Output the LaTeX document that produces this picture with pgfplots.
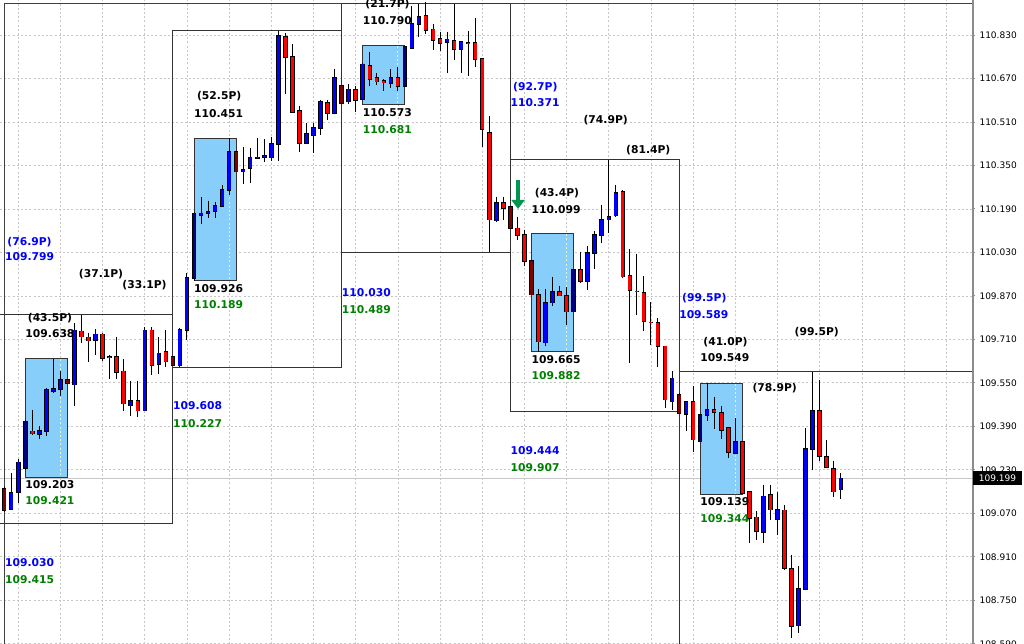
\documentclass[border=0pt]{standalone}
\usepackage{pgfplots}
\pgfplotsset{compat=1.18}
\usepackage{pgfplotstable}
\usepackage{fontspec}
\setmainfont{DejaVu Sans}
\usetikzlibrary{arrows.meta}
\definecolor{mtblue}{RGB}{0,0,255}
\definecolor{mtred}{RGB}{255,0,0}
\definecolor{mtnavy}{RGB}{0,0,128}
\definecolor{mtmaroon}{RGB}{128,0,0}
\definecolor{mtgreen}{RGB}{0,128,0}
\definecolor{txtblue}{RGB}{0,0,255}
\definecolor{skyb}{RGB}{135,206,250}
\definecolor{gridin}{RGB}{230,245,200}
\definecolor{arrowg}{RGB}{0,150,80}
\newcommand{\lf}{\fontsize{10.75}{12}\selectfont\bfseries}
\newcommand{\lab}[4]{\node[anchor=west,inner sep=0pt,text=#4,font=\lf] at (axis cs:#1,#2) {#3};}
\newcommand{\plab}[4]{\node[anchor=center,inner sep=0pt,text=#4,font=\lf] at (axis cs:#1,#2) {#3};}

\pgfplotstableread{
i o h l c
1 109.086 109.218 109.083 109.144
2 109.147 109.270 109.108 109.257
5 109.360 109.392 109.343 109.374
6 109.371 109.531 109.355 109.524
7 109.520 109.638 109.514 109.527
8 109.527 109.592 109.503 109.561
10 109.543 109.770 109.466 109.743
13 109.706 109.748 109.653 109.728
18 109.466 109.558 109.429 109.484
20 109.448 109.755 109.446 109.743
22 109.619 109.717 109.583 109.659
25 109.613 109.752 109.610 109.745
26 109.745 109.954 109.706 109.935
28 110.168 110.233 110.135 110.174
29 110.174 110.220 110.156 110.180
30 110.183 110.217 110.156 110.201
31 110.201 110.278 110.199 110.260
32 110.260 110.451 110.242 110.401
34 110.327 110.416 110.281 110.334
35 110.340 110.413 110.285 110.380
36 110.376 110.452 110.375 110.380
37 110.381 110.446 110.364 110.385
38 110.379 110.456 110.368 110.429
39 110.429 110.846 110.368 110.826
43 110.432 110.505 110.429 110.465
44 110.462 110.507 110.395 110.487
45 110.487 110.591 110.462 110.585
47 110.542 110.704 110.541 110.671
49 110.585 110.649 110.576 110.630
51 110.594 110.726 110.591 110.722
55 110.652 110.704 110.634 110.671
58 110.781 110.935 110.780 110.870
59 110.870 110.943 110.822 110.897
63 110.803 110.842 110.691 110.814
65 110.777 110.806 110.691 110.805
70 110.147 110.235 110.140 110.213
77 109.698 109.895 109.686 109.843
78 109.845 109.941 109.831 109.886
83 109.925 110.054 109.892 110.029
84 110.027 110.107 109.968 110.094
85 110.094 110.205 110.066 110.150
86 110.150 110.370 110.103 110.162
87 110.165 110.278 110.162 110.250
95 109.481 109.592 109.451 109.567
97 109.436 109.482 109.371 109.481
100 109.432 109.549 109.408 109.451
104 109.292 109.420 109.289 109.334
108 109.000 109.175 108.961 109.132
110 109.049 109.150 108.991 109.083
113 108.656 108.875 108.630 108.791
114 108.791 109.384 108.790 109.306
115 109.306 109.589 109.230 109.447
119 109.157 109.220 109.122 109.199
}\bull

\pgfplotstableread{
i o h l c
4 109.371 109.451 109.359 109.363
11 109.739 109.800 109.696 109.720
12 109.717 109.735 109.628 109.705
14 109.728 109.734 109.632 109.641
15 109.645 109.653 109.564 109.643
16 109.645 109.718 109.564 109.588
17 109.592 109.637 109.445 109.473
19 109.484 109.558 109.426 109.448
21 109.743 109.755 109.580 109.616
23 109.663 109.743 109.610 109.628
40 110.822 110.838 110.613 110.748
41 110.750 110.796 110.545 110.546
42 110.551 110.569 110.401 110.432
46 110.581 110.591 110.517 110.542
50 110.628 110.642 110.548 110.591
52 110.717 110.769 110.642 110.667
53 110.671 110.691 110.646 110.658
54 110.661 110.667 110.625 110.655
56 110.671 110.711 110.625 110.642
60 110.900 110.952 110.834 110.848
61 110.851 110.870 110.775 110.812
62 110.815 110.842 110.772 110.800
64 110.808 110.944 110.738 110.777
66 110.802 110.846 110.679 110.800
67 110.802 110.891 110.713 110.741
68 110.741 110.742 110.419 110.483
69 110.471 110.530 110.032 110.150
71 110.211 110.235 110.150 110.193
73 110.118 110.162 110.074 110.094
74 110.094 110.113 109.980 109.999
76 109.874 109.895 109.665 109.702
79 109.886 109.907 109.868 109.871
80 109.871 109.904 109.763 109.812
82 109.965 110.033 109.917 109.925
88 110.254 110.260 109.935 109.941
89 109.944 110.042 109.623 109.892
90 109.887 110.025 109.800 109.885
91 109.882 109.944 109.741 109.776
92 109.773 109.849 109.690 109.771
93 109.770 109.788 109.610 109.684
94 109.684 109.686 109.457 109.488
98 109.481 109.539 109.294 109.341
101 109.451 109.498 109.380 109.441
102 109.439 109.463 109.343 109.377
103 109.384 109.389 109.273 109.294
105 109.334 109.336 109.141 109.144
106 109.150 109.152 108.961 109.053
107 109.055 109.077 108.973 109.003
109 109.138 109.175 109.046 109.083
111 109.081 109.099 108.862 108.869
112 108.865 108.918 108.611 108.654
116 109.447 109.561 109.264 109.279
117 109.277 109.338 109.236 109.239
118 109.233 109.264 109.130 109.150
}\bear

\pgfplotstableread{
i o h l c
3 109.236 109.414 109.230 109.408
27 109.935 110.180 109.925 110.174
57 110.642 110.790 110.640 110.787
81 109.812 109.966 109.811 109.965
99 109.334 109.433 109.333 109.432
}\dbull

\pgfplotstableread{
i o h l c
0 109.159 109.168 109.076 109.081
9 109.561 109.565 109.546 109.549
24 109.645 109.646 109.613 109.615
33 110.401 110.403 110.326 110.327
48 110.644 110.646 110.579 110.580
72 110.197 110.199 110.119 110.119
75 109.999 110.000 109.874 109.874
96 109.506 109.512 109.438 109.439
}\dbear

\newcommand{\candles}[2]{%
\addplot[draw=none, mark=none, forget plot, error bars/.cd, y dir=minus, y explicit, error mark=none,
  error bar style={line width=1pt, draw=black, solid}]
  table[x=i, y=h, y error minus expr={\thisrow{h}-\thisrow{l}}] {#1};
\addplot[draw=none, mark=none, forget plot, error bars/.cd, y dir=minus, y explicit, error mark=none,
  error bar style={line width=4.5pt, draw=black, solid}]
  table[x=i, y expr={max(\thisrow{o},\thisrow{c})+0.0026}, y error minus expr={abs(\thisrow{o}-\thisrow{c})+0.0052}] {#1};
\addplot[draw=none, mark=none, forget plot, error bars/.cd, y dir=minus, y explicit, error mark=none,
  error bar style={line width=3pt, draw=#2, solid}]
  table[x=i, y expr={max(\thisrow{o},\thisrow{c})}, y error minus expr={abs(\thisrow{o}-\thisrow{c})}] {#1};
}

\begin{document}
\begin{tikzpicture}
\begin{axis}[
  at={(0,0)}, anchor=south west,
  scale only axis, width=972pt, height=644pt,
  xmin=-0.597, xmax=137.67, ymin=108.589, ymax=110.9587,
  clip=false,
  axis line style={draw=none},
  xtick={2,8,...,134}, xticklabels={}, xtick style={draw=none},
  xmajorgrids, ymajorgrids,
  major grid style={draw=black!22, dash pattern=on 2pt off 2.2pt, line width=0.7pt},
  ytick={108.59,108.75,108.91,109.07,109.23,109.39,109.55,109.71,109.87,110.03,110.19,110.35,110.51,110.67,110.83},
  yticklabels={108.590,108.750,108.910,109.070,109.230,109.390,109.550,109.710,109.870,110.030,110.190,110.350,110.510,110.670,110.830},
  ytick pos=right, yticklabel pos=right, ytick align=outside,
  major tick length=3pt,
  ytick style={draw=black!45, line width=0.8pt},
  yticklabel style={font=\fontsize{9}{10}\selectfont, text=black, xshift=1pt},
]
% bid line
\draw[black!22, line width=0.8pt] (axis cs:-0.597,109.199) -- (axis cs:137.67,109.199);
% frame lines
\draw[black!75, line width=1pt] (axis cs:0.04,108.589) -- (axis cs:0.04,110.944) -- (axis cs:137.67,110.944);
\draw[black!45, line width=1.8pt] (axis cs:137.8,108.589) -- (axis cs:137.8,110.9587);
% session boxes
\draw[black!80, line width=1pt] (axis cs:-0.597,109.800) -- (axis cs:24,109.800) -- (axis cs:24,109.033) -- (axis cs:-0.597,109.033);
\draw[black!80, line width=1pt] (axis cs:24,110.848) rectangle (axis cs:48,109.608);
\draw[black!80, line width=1pt] (axis cs:48,110.944) rectangle (axis cs:72,110.030);
\draw[black!80, line width=1pt] (axis cs:72,110.371) rectangle (axis cs:96,109.444);
\draw[black!80, line width=1pt] (axis cs:96,108.589) -- (axis cs:96,109.590) -- (axis cs:137.67,109.590);
% blue range rectangles
\filldraw[fill=skyb, draw=black!80, line width=0.9pt] (axis cs:3,109.638) rectangle (axis cs:9,109.203);
\filldraw[fill=skyb, draw=black!80, line width=0.9pt] (axis cs:27,110.451) rectangle (axis cs:33,109.926);
\filldraw[fill=skyb, draw=black!80, line width=0.9pt] (axis cs:51,110.790) rectangle (axis cs:57,110.573);
\filldraw[fill=skyb, draw=black!80, line width=0.9pt] (axis cs:75,110.099) rectangle (axis cs:81,109.665);
\filldraw[fill=skyb, draw=black!80, line width=0.9pt] (axis cs:99,109.549) rectangle (axis cs:105,109.139);
\draw[gridin, dash pattern=on 2pt off 2.2pt, line width=0.8pt] (axis cs:8,109.636) -- (axis cs:8,109.205);
\draw[gridin, dash pattern=on 2pt off 2.2pt, line width=0.8pt] (axis cs:32,110.449) -- (axis cs:32,109.928);
\draw[gridin, dash pattern=on 2pt off 2.2pt, line width=0.8pt] (axis cs:56,110.788) -- (axis cs:56,110.575);
\draw[gridin, dash pattern=on 2pt off 2.2pt, line width=0.8pt] (axis cs:80,110.097) -- (axis cs:80,109.667);
\draw[gridin, dash pattern=on 2pt off 2.2pt, line width=0.8pt] (axis cs:104,109.547) -- (axis cs:104,109.141);
% candles
\candles{\bull}{mtblue}
\candles{\bear}{mtred}
\candles{\dbull}{mtnavy}
\candles{\dbear}{mtmaroon}
% labels
\plab{3.6}{110.0687}{(76.9P)}{txtblue}
\lab{0.1}{110.0135}{109.799}{txtblue}
\plab{6.51}{109.7881}{(43.5P)}{black}
\lab{3}{109.7329}{109.638}{black}
\plab{13.77}{109.9510}{(37.1P)}{black}
\plab{19.96}{109.9105}{(33.1P)}{black}
\lab{3}{109.1750}{109.203}{black}
\lab{3}{109.1161}{109.421}{mtgreen}
\lab{0.1}{108.8881}{109.030}{txtblue}
\lab{0.1}{108.8256}{109.415}{mtgreen}
\plab{30.58}{110.6054}{(52.5P)}{black}
\lab{27}{110.5420}{110.451}{black}
\lab{27}{109.8984}{109.926}{black}
\lab{27}{109.8370}{110.189}{mtgreen}
\lab{24}{109.4655}{109.608}{txtblue}
\lab{24}{109.4018}{110.227}{mtgreen}
\lab{48}{109.8822}{110.030}{txtblue}
\lab{48}{109.8186}{110.489}{mtgreen}
\plab{54.52}{110.9440}{(21.7P)}{black}
\lab{51}{110.8826}{110.790}{black}
\lab{51}{110.5442}{110.573}{black}
\lab{51}{110.4832}{110.681}{mtgreen}
\plab{75.55}{110.6398}{(92.7P)}{txtblue}
\lab{72}{110.5825}{110.371}{txtblue}
\plab{85.56}{110.5174}{(74.9P)}{black}
\plab{91.62}{110.4070}{(81.4P)}{black}
\plab{78.63}{110.2478}{(43.4P)}{black}
\lab{75}{110.1889}{110.099}{black}
\lab{75}{109.6373}{109.665}{black}
\lab{75}{109.5759}{109.882}{mtgreen}
\lab{72}{109.3000}{109.444}{txtblue}
\lab{72}{109.2375}{109.907}{mtgreen}
\plab{99.59}{109.8616}{(99.5P)}{txtblue}
\lab{96}{109.8027}{109.589}{txtblue}
\plab{102.6}{109.6997}{(41.0P)}{black}
\lab{99}{109.6431}{109.549}{black}
\plab{115.58}{109.7366}{(99.5P)}{black}
\plab{109.6}{109.5306}{(78.9P)}{black}
\lab{99}{109.1114}{109.139}{black}
\lab{99}{109.0489}{109.344}{mtgreen}
% arrow
\draw[-{Triangle[width=13pt,length=9pt]}, line width=3.2pt, arrowg] (axis cs:73.1,110.296) -- (axis cs:73.1,110.190);
\coordinate (pl) at (axis cs:137.67,109.199);
\end{axis}
\node[anchor=west, fill=black, text=white, font=\fontsize{9}{10}\selectfont, inner xsep=5.5pt, inner ysep=0pt, minimum height=14pt, xshift=1.2pt] at (pl) {109.199};
\pgfresetboundingbox
\path[use as bounding box] (0,0) rectangle (1024pt,644pt);
\end{tikzpicture}
\end{document}
